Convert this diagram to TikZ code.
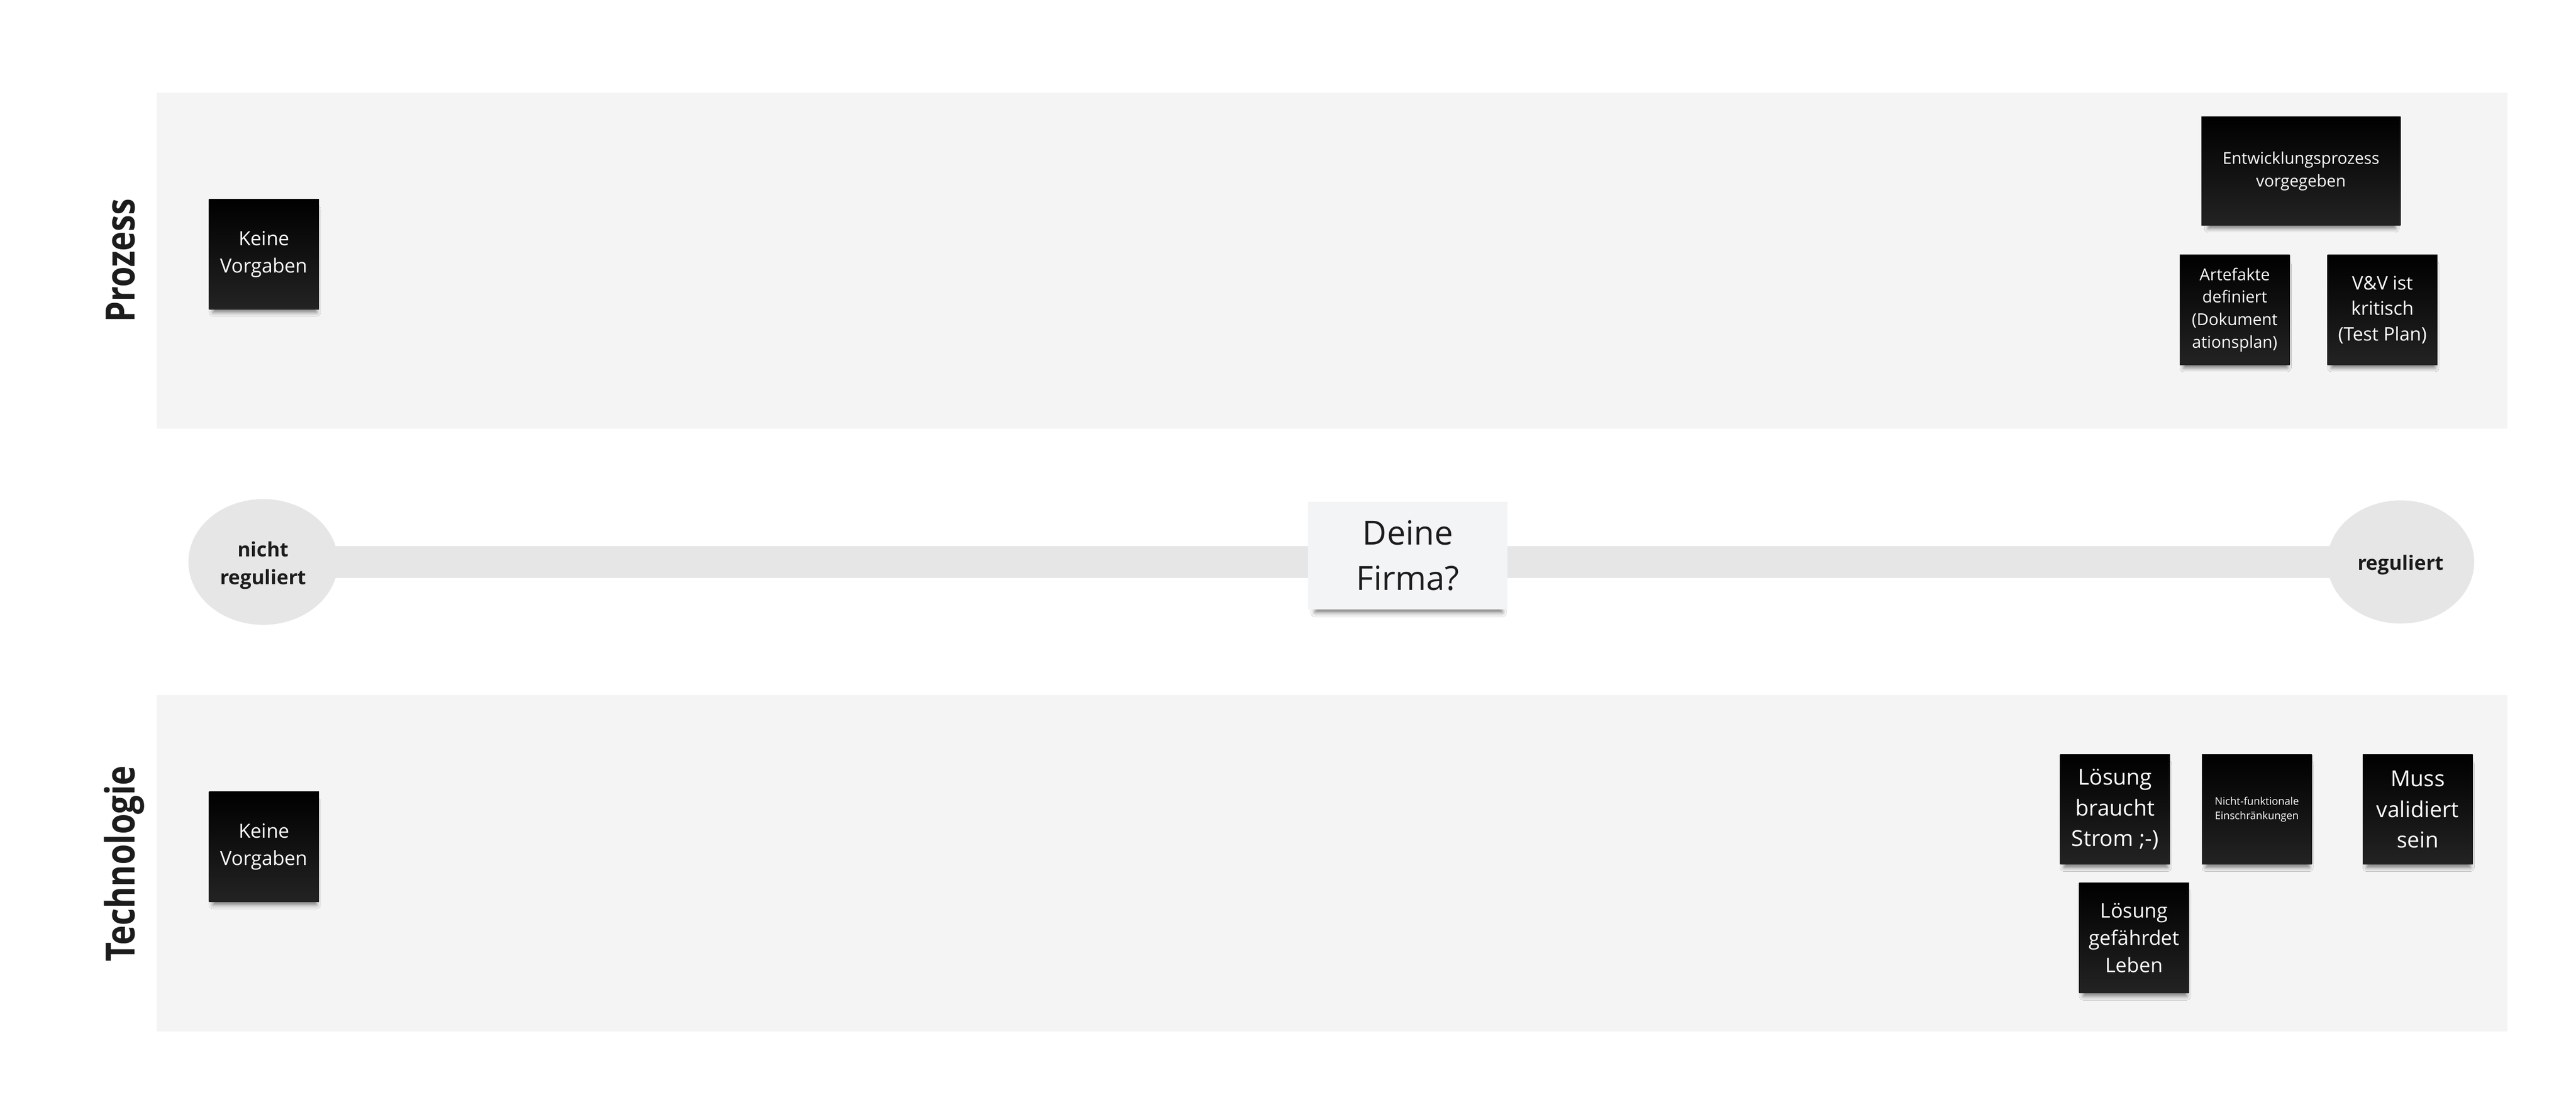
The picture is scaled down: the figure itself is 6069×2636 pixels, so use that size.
\documentclass[tikz,border=0pt]{standalone}
\usepackage{fontspec}
\setmainfont{Open Sans}
\newfontfamily\labelfont[FakeStretch=0.82]{Open Sans}
\usetikzlibrary{shapes.geometric,shadows.blur}
\definecolor{panelgray}{HTML}{F4F4F4}
\definecolor{bargray}{HTML}{E6E6E6}
\definecolor{inkdark}{HTML}{1C1C1C}
\definecolor{stickytop}{HTML}{000000}
\definecolor{stickybot}{HTML}{232323}
\definecolor{firmafill}{HTML}{F3F4F6}
\newcommand{\mysize}[2]{\fontsize{#1pt}{#2pt}\selectfont}
\begin{document}
\begin{tikzpicture}[x=0.01cm,y=-0.01cm,
  stickyshadow/.style={blur shadow={shadow xshift=0.02cm, shadow yshift=-0.16cm,
      shadow scale=0.94, shadow opacity=50, shadow blur radius=0.1cm}},
  sticky/.style={rectangle, inner sep=0pt, minimum width=2.59cm, minimum height=2.59cm,
      top color=stickytop, bottom color=stickybot, text=white, align=center, stickyshadow},
  widesticky/.style={sticky, minimum width=4.69cm, minimum height=2.55cm},
  firmabox/.style={rectangle, inner sep=0pt, minimum width=4.70cm, minimum height=2.54cm,
      fill=firmafill, text=inkdark, align=center, stickyshadow},
  endpt/.style={ellipse, inner sep=0pt, fill=bargray, text=inkdark, align=center,
      font=\bfseries\mysize{13.3}{18.5}},
  lanelabel/.style={inner sep=0pt, rotate=90, anchor=base, text=inkdark,
      font=\labelfont\bfseries\mysize{27}{30}},
]
\useasboundingbox (0,0) rectangle (6069,2636);
\fill[white] (0,0) rectangle (6069,2636);
\fill[panelgray] (369,219) rectangle (5908,1010);
\fill[panelgray] (369,1638) rectangle (5908,2430);

% lane labels
\node[lanelabel] (lblproz) at (317,614) {Prozess};
\node[lanelabel] (lbltech) at (317,2035) {Technologie};

% axis
\coordinate (barL) at (620,1324);
\coordinate (barR) at (5656,1324);
\draw[bargray, line width=0.75cm] (barL) -- (barR);
\node[endpt, minimum width=3.52cm, minimum height=2.96cm] (lft) at (barL) {\rule{0pt}{14.6pt}nicht\\reguliert};
\node[endpt, minimum width=3.46cm, minimum height=2.90cm, text height=14pt, text depth=3.2pt] (rgt) at (barR) {reguliert};
\node[firmabox, font=\mysize{22.3}{30.2}] (firma) at (3317,1309) {Deine\\Firma?};

% Prozess lane
\node[sticky, font=\mysize{13.1}{18.2}] (kvproz) at (622,599) {Keine\\Vorgaben};
\node[widesticky, font=\mysize{10.9}{15.1}] (entw) at (5421,403) {Entwicklungsprozess\\vorgegeben};
\node[sticky, font=\mysize{11.0}{15.1}] (arte) at (5265,730) {Artefakte\\definiert\\(Dokument\\ationsplan)};
\node[sticky, font=\mysize{12.5}{17.1}] (vuv) at (5613,730) {V\&V ist\\kritisch\\(Test Plan)};

% Technologie lane
\node[sticky, font=\mysize{13.1}{18.2}] (kvtech) at (622,1995) {Keine\\Vorgaben};
\node[sticky, font=\mysize{14.7}{20.5}] (strom) at (4983,1907) {Lösung\\braucht\\Strom ;-)};
\node[sticky, font=\mysize{7.0}{9.7}] (nichtf) at (5317,1907) {Nicht-funktionale\\Einschränkungen};
\node[sticky, font=\mysize{14.7}{20.5}] (muss) at (5696,1907) {Muss\\validiert\\sein};
\node[sticky, font=\mysize{13.4}{18.2}] (leben) at (5028,2210) {Lösung\\gefährdet\\Leben};
\end{tikzpicture}
\end{document}
